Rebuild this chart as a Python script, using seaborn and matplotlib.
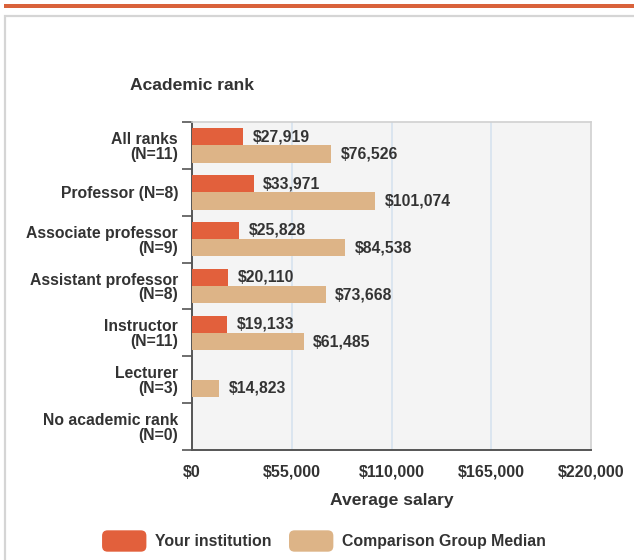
import numpy as np
import pandas as pd
import matplotlib
matplotlib.use("Agg")
import matplotlib.pyplot as plt
import seaborn as sns
from matplotlib.patches import Rectangle, FancyBboxPatch, Patch
from matplotlib.legend_handler import HandlerPatch

categories = ["All ranks\n(N=11)", "Professor (N=8)", "Associate professor\n(N=9)",
              "Assistant professor\n(N=8)", "Instructor\n(N=11)", "Lecturer\n(N=3)",
              "No academic rank\n(N=0)"]
your_institution = [27919, 33971, 25828, 20110, 19133, np.nan, np.nan]
comparison_median = [76526, 101074, 84538, 73668, 61485, 14823, np.nan]
series_names = ["Your institution", "Comparison Group Median"]
x_ticks = [0, 55000, 110000, 165000, 220000]
x_tick_labels = ["$0", "$55,000", "$110,000", "$165,000", "$220,000"]

RED = "#E2603C"
TAN = "#DDB487"
TXT = "#333333"

sns.set_theme(style="white")
plt.rcParams["font.family"] = ["Liberation Sans", "DejaVu Sans"]

df = pd.DataFrame({
    "rank": categories * 2,
    "salary": your_institution + comparison_median,
    "series": [series_names[0]] * len(categories) + [series_names[1]] * len(categories),
})

fig = plt.figure(figsize=(6.34, 5.6), dpi=100)
W, H = 634, 560

# decorative frame
fig.patches.append(Rectangle((4 / W, 1 - 8 / H), 1, 4 / H, transform=fig.transFigure,
                             facecolor="#D9623B", edgecolor="none"))
fig.patches.append(Rectangle((5 / W, -0.1), 1, 1 - 15.5 / H + 0.1, transform=fig.transFigure,
                             facecolor="none", edgecolor="#D5D5D5", linewidth=1.6))

ax = fig.add_axes([192 / W, 1 - 450 / H, 399 / W, 328 / H])
ax.set_facecolor("#F4F4F4")

sns.barplot(data=df, y="rank", x="salary", hue="series", orient="h",
            palette=[RED, TAN], order=categories, hue_order=series_names,
            width=0.74, saturation=1, linewidth=0, ax=ax, legend=False, zorder=3)

for cont in ax.containers:
    labels = ["" if np.isnan(v) else f"${v:,.0f}" for v in cont.datavalues]
    ax.bar_label(cont, labels=labels, padding=7, fontsize=11.3, fontweight="bold", color=TXT)

ax.set_xlim(0, 220000)
ax.set_ylim(len(categories) - 0.5, -0.5)
ax.set_xticks(x_ticks)
ax.set_xticklabels(x_tick_labels, fontsize=11.5, fontweight="bold", color=TXT)
ax.tick_params(axis="x", length=0, pad=10.5)
ax.set_yticks(range(len(categories)))
ax.set_yticklabels(categories, fontsize=11.3, fontweight="bold", color=TXT, linespacing=1.0)
ax.tick_params(axis="y", which="major", length=0, pad=10)
ax.set_yticks(np.arange(-0.5, len(categories) + 0.5, 1), minor=True)
ax.tick_params(axis="y", which="minor", left=True, length=7, width=1.2, color="#555555")

for xv in x_ticks[1:-1]:
    ax.axvline(xv, color="#D6E2EE", linewidth=1.2, zorder=1)

for s in ["top", "right"]:
    ax.spines[s].set_color("#D0D0D0")
    ax.spines[s].set_linewidth(1.2)
for s in ["left", "bottom"]:
    ax.spines[s].set_color("#555555")
    ax.spines[s].set_linewidth(1.4)
ax.set_ylabel("")
ax.set_xlabel("Average salary", fontsize=12.6, fontweight="bold", color=TXT, labelpad=10)

fig.text(192 / W, 1 - 86 / H, "Academic rank", ha="center", va="center",
         fontsize=12.6, fontweight="bold", color=TXT)


class RoundHandler(HandlerPatch):
    def create_artists(self, legend, orig_handle, xdescent, ydescent, width, height, fontsize, trans):
        p = FancyBboxPatch((-xdescent + 2, -ydescent + 2), width - 4, height - 4,
                           boxstyle="round,pad=2,rounding_size=4",
                           facecolor=orig_handle.get_facecolor(), edgecolor="none", transform=trans)
        return [p]


handles = [Patch(facecolor=RED), Patch(facecolor=TAN)]
leg = fig.legend(handles, series_names, loc="center", bbox_to_anchor=(324 / W, 1 - 541 / H),
                 ncol=2, frameon=False, handlelength=2.8, handleheight=1.7,
                 handletextpad=0.55, columnspacing=1.1,
                 handler_map={Patch: RoundHandler()},
                 prop={"weight": "bold", "size": 11.4})
for t in leg.get_texts():
    t.set_color(TXT)

fig.savefig("out.png", dpi=100)
